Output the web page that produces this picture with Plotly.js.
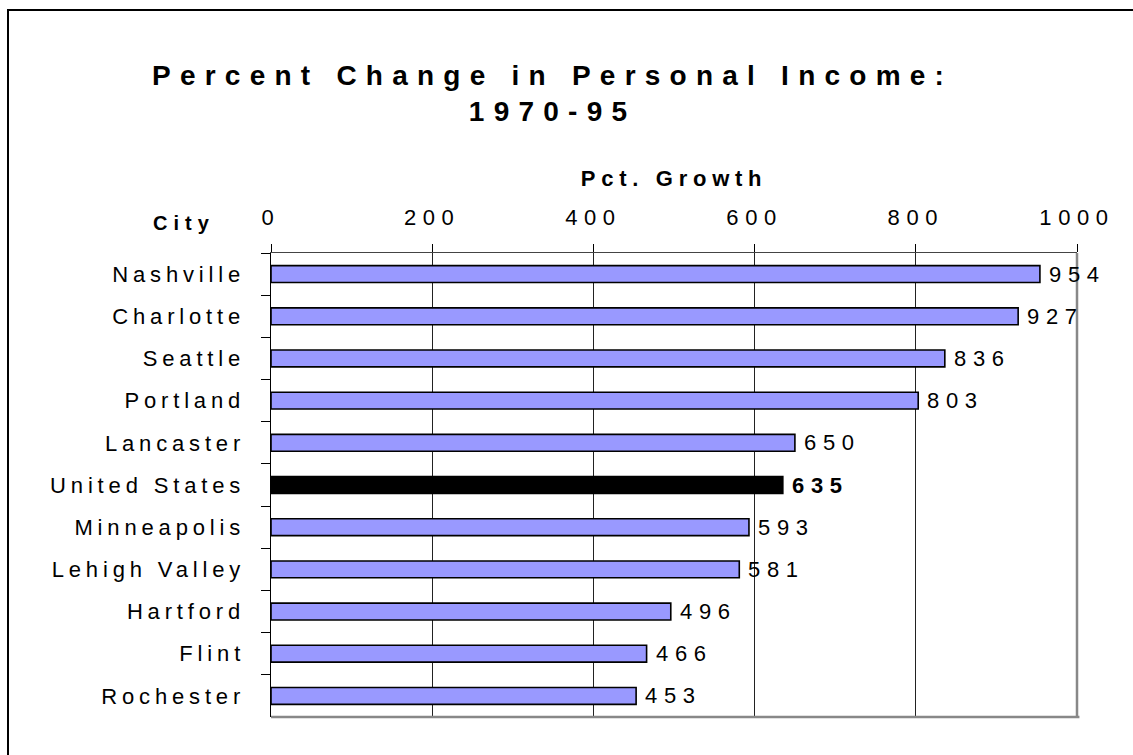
<!DOCTYPE html>
<html>
<head>
<meta charset="utf-8">
<script src="https://cdn.plot.ly/plotly-3.0.1.min.js"></script>
<style>
  html, body { margin: 0; padding: 0; background: #fff; }
  #chart { width: 1133px; height: 755px; }
  #chart text.gtitle { letter-spacing: 0.33em; }
  #chart text.xtitle { letter-spacing: 0.26em; }
  #chart g.xtick text { letter-spacing: 0.3em; }
  #chart g.ytick text { letter-spacing: 0.22em; }
  #chart text.annotation-text { letter-spacing: 0.3em; }
</style>
</head>
<body>
<div id="chart"></div>
<script>
const cities = ["Nashville", "Charlotte", "Seattle", "Portland", "Lancaster", "United States",
                "Minneapolis", "Lehigh Valley", "Hartford", "Flint", "Rochester"];
const growth = [954, 927, 836, 803, 650, 635, 593, 581, 496, 466, 453];
const highlight = "United States";
const xTicks = [0, 200, 400, 600, 800, 1000];

const FONT = "Arial, 'Liberation Sans', sans-serif";

const barColors = cities.map(c => c === highlight ? "#000000" : "#9999FF");

const trace = {
  type: "bar",
  orientation: "h",
  x: growth,
  y: cities,
  width: 0.4,
  marker: { color: barColors, line: { color: "#000", width: 1.6 } },
  hoverinfo: "skip"
};

const valueLabels = cities.map((c, i) => ({
  text: c === highlight ? "<b>" + growth[i] + "</b>" : String(growth[i]),
  x: growth[i], y: c, xref: "x", yref: "y",
  xanchor: "left", yanchor: "middle", xshift: 17,
  showarrow: false,
  font: { family: FONT, size: 22, color: "#000" }
}));

const layout = {
  width: 1133,
  height: 755,
  margin: { l: 271, r: 56, t: 253, b: 38 },
  paper_bgcolor: "#fff",
  plot_bgcolor: "#fff",
  showlegend: false,
  font: { family: FONT, color: "#000" },
  title: {
    text: "<b>Percent Change in Personal Income:<br>1970-95</b>",
    font: { family: FONT, size: 28, color: "#000" },
    x: 0.4877, xanchor: "center", xref: "container",
    y: 0.8874, yanchor: "middle", yref: "container"
  },
  xaxis: {
    side: "top",
    range: [0, 1000],
    tickvals: xTicks,
    ticktext: xTicks.map(String),
    tickfont: { family: FONT, size: 22, color: "#000" },
    ticks: "outside", ticklen: 8, tickcolor: "#000", tickwidth: 1,
    ticklabelstandoff: 10,
    showgrid: true, gridcolor: "#222", gridwidth: 1,
    showline: true, linecolor: "#444", linewidth: 1,
    zeroline: false,
    title: { text: "<b>Pct. Growth</b>", font: { family: FONT, size: 22, color: "#000" }, standoff: 12 },
    fixedrange: true
  },
  yaxis: {
    type: "category",
    autorange: "reversed",
    tickson: "boundaries",
    ticks: "outside", ticklen: 9, tickcolor: "#000", tickwidth: 1,
    tickfont: { family: FONT, size: 22, color: "#000" },
    showline: true, linecolor: "#000", linewidth: 1.5,
    showgrid: false, zeroline: false,
    ticklabelstandoff: 20,
    fixedrange: true
  },
  shapes: [
    { type: "line", xref: "paper", yref: "paper", x0: 1, x1: 1, y0: 0, y1: 1,
      line: { color: "#888", width: 2.5 } },
    { type: "line", xref: "paper", yref: "paper", x0: 0, x1: 1.003, y0: 0, y1: 0,
      line: { color: "#888", width: 2.5 } },
    { type: "rect", xref: "paper", yref: "paper", x0: -0.3263, x1: 1.2, y0: -0.2, y1: 1.5237,
      line: { color: "#000", width: 2 }, fillcolor: "rgba(0,0,0,0)", layer: "below" }
  ],
  annotations: [
    { text: "<b>City</b>", xref: "paper", yref: "paper",
      x: (184 - 271) / 806, y: (717 - 223) / 464, xanchor: "center", yanchor: "middle",
      showarrow: false, font: { family: FONT, size: 20, color: "#000" } }
  ].concat(valueLabels)
};

Plotly.newPlot("chart", [trace], layout, { displayModeBar: false, staticPlot: true });
</script>
</body>
</html>
